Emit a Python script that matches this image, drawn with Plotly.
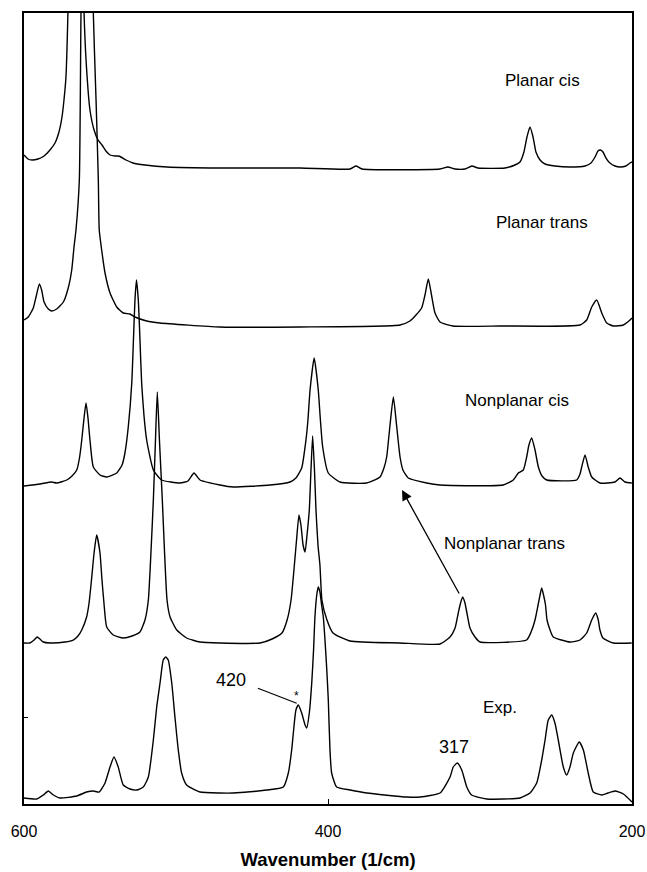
import plotly.graph_objects as go

# ---- data (wavenumber in 1/cm, intensity in arbitrary units above each baseline) ----
WN_PLANAR_CIS = [600, 597.4, 594.7, 590.8, 586.8, 582.9, 579.6, 577.0, 575.0, 573.7, 572.4, 571.1, 565.8, 560.5,
                 558.9, 556.6, 553.9, 551.3, 548.7, 546.1, 543.4, 540.1, 538.2, 536.2, 532.9, 528.3, 520.4, 505.9,
                 471.1, 418.4, 385.5, 381.6, 377.6, 326.3, 321.1, 316.4, 309.9, 305.3, 301.3, 283.6, 277.0, 273.7,
                 271.1, 269.1, 267.1, 265.1, 263.2, 260.5, 257.2, 250.7, 240.8, 230.9, 227.0, 224.3, 222.4, 220.7,
                 219.1, 217.1, 214.5, 211.2, 207.9, 204.0, 201.3, 200]
I_PLANAR_CIS = [12, 8, 7, 8, 11, 17, 24, 35, 50, 67, 90, 154, 587, 154,
                100, 57, 37, 27, 22, 16, 12, 11, 11, 10, 7, 4, 2, 0,
                -1, -1, -2, 1, -2, -2, 0, -2, -2, 1, -1, -1, 2, 5,
                15, 30, 40, 30, 15, 7, 3, 1, 0, 1, 4, 10, 16, 17,
                15, 9, 4, 1, 0, 1, 4, 5]

WN_PLANAR_TRANS = [600, 597.2, 593.9, 592.1, 589.9, 588.4, 586.8, 584.0, 581.8, 578.5, 574.1, 570.9, 568.6, 567.1,
                   565.8, 563.6, 562.5, 558.2, 554.4, 552.6, 551.1, 550.5, 548.9, 546.7, 543.4, 539.0, 534.7, 530.3,
                   527.0, 519.3, 510.5, 471.1, 418.4, 352.6, 346.1, 342.1, 338.4, 336.2, 334.0, 331.9, 329.6, 326.3,
                   317.8, 286.8, 234.2, 229.8, 226.5, 223.2, 219.9, 216.6, 212.3, 205.7, 201.3, 200]
I_PLANAR_TRANS = [6, 9, 18, 29, 42, 36, 24, 17, 15, 17, 24, 38, 56, 79,
                  96, 146, 313, 726, 313, 226, 146, 96, 76, 53, 33, 19, 13, 12,
                  9, 5, 3, -1, -1, 1, 5, 11, 18, 31, 47, 31, 13, 4,
                  0, 0, 1, 6, 19, 26, 13, 3, 0, 1, 6, 8]

WN_NONPLANAR_CIS = [600, 589.5, 581.8, 578.5, 571.9, 568.4, 565.3, 563.5, 562.0, 560.5, 559.2, 557.9, 556.6, 554.4,
                    550.0, 545.6, 539.0, 535.5, 533.6, 531.4, 529.1, 528.0, 527.0, 526.0, 524.8, 523.7, 522.6, 521.1,
                    519.3, 514.9, 509.4, 497.4, 492.1, 488.2, 484.2, 471.1, 462.5, 438.2, 425.0, 421.1, 417.3, 414.5,
                    413.2, 411.8, 409.1, 406.4, 405.0, 403.5, 399.8, 392.1, 374.6, 365.8, 363.2, 361.4, 359.2, 357.0,
                    354.9, 352.6, 350.7, 347.2, 335.1, 326.3, 284.7, 278.1, 274.8, 271.5, 269.3, 267.8, 266.0, 263.8,
                    261.6, 259.2, 256.1, 236.4, 234.2, 233.1, 230.9, 228.8, 226.5, 221.1, 211.2, 207.9, 204.6, 200.1]
I_NONPLANAR_CIS = [-2, 0, 2, 1, 4, 8, 14, 26, 44, 66, 81, 66, 44, 17,
                   9, 7, 11, 19, 31, 57, 101, 144, 184, 204, 184, 144, 101, 69,
                   44, 14, 4, 1, 3, 11, 4, -1, -3, -1, 2, 6, 16, 44,
                   64, 94, 126, 94, 64, 37, 11, 2, 1, 7, 16, 27, 59, 87,
                   59, 27, 14, 6, 1, -1, -1, 4, 11, 14, 27, 39, 46, 34,
                   17, 8, 4, 4, 10, 17, 29, 17, 7, 1, 2, 6, 2, 1]

WN_NONPLANAR_TRANS = [600, 596.1, 593.4, 591.3, 589.5, 587.3, 582.9, 573.0, 567.6, 564.5, 562.0, 558.8, 557.2, 555.6,
                      553.9, 552.2, 550.0, 548.7, 547.4, 545.6, 541.3, 534.7, 528.9, 523.7, 520.4, 518.2, 516.4, 514.9,
                      513.5, 512.3, 510.9, 509.0, 507.6, 505.9, 503.9, 499.5, 493.0, 484.2, 471.1, 444.7, 436.8, 430.3,
                      426.9, 424.3, 422.4, 420.7, 419.1, 417.8, 416.4, 415.1, 413.8, 412.3, 411.2, 410.1, 408.9, 407.9,
                      406.6, 405.3, 404.0, 400.9, 396.7, 385.5, 352.6, 326.3, 319.7, 316.4, 314.3, 312.8, 311.4, 309.9,
                      308.6, 306.6, 303.3, 300.0, 269.3, 266.4, 263.8, 261.8, 260.5, 259.4, 258.2, 256.9, 255.9, 253.9,
                      251.8, 240.8, 234.2, 229.8, 226.5, 223.9, 222.2, 221.1, 219.1, 212.3, 200.2]
I_NONPLANAR_TRANS = [-1, -1, 2, 5, 3, 0, -1, 0, 2, 6, 12, 25, 39, 62,
                     89, 107, 89, 62, 39, 15, 7, 4, 6, 10, 22, 42, 92, 142,
                     202, 250, 202, 142, 92, 42, 25, 12, 4, 0, -1, -1, 3, 9,
                     22, 42, 72, 102, 127, 117, 97, 90, 107, 132, 172, 206, 172, 132,
                     97, 77, 42, 23, 9, 1, -1, -2, 5, 14, 29, 39, 45, 39,
                     29, 14, 5, 0, 2, 10, 22, 37, 47, 54, 47, 37, 22, 12,
                     5, 0, 2, 9, 22, 29, 22, 12, 4, -1, -1]

WN_EXP = [600, 591.6, 587.3, 584.0, 580.7, 576.3, 565.3, 558.8, 554.4, 550.5, 546.7, 543.4, 540.8, 538.0,
          534.7, 530.3, 525.9, 521.5, 518.2, 514.9, 512.7, 510.5, 508.4, 506.8, 505.1, 502.8, 500.7, 498.5,
          496.3, 493.0, 484.2, 471.1, 462.5, 440.3, 429.4, 426.1, 423.9, 422.8, 421.1, 419.5, 417.3, 415.1,
          414.0, 412.3, 410.7, 409.5, 408.6, 407.4, 406.4, 405.3, 404.2, 403.1, 400.9, 399.8, 398.7, 397.6,
          394.3, 385.5, 374.5, 348.2, 339.5, 326.3, 319.7, 317.6, 314.9, 312.0, 308.7, 305.5, 295.6, 273.7,
          267.1, 262.7, 259.4, 257.2, 255.1, 252.8, 250.7, 248.5, 245.2, 243.0, 240.8, 238.6, 234.7, 232.0,
          228.8, 225.5, 219.9, 215.8, 211.2, 205.7, 200]
I_EXP = [0, -1, 3, 7, 3, 0, 2, 6, 7, 6, 15, 31, 41, 31,
         13, 9, 8, 11, 21, 58, 91, 115, 138, 141, 138, 115, 81, 48,
         25, 13, 6, 5, 5, 8, 11, 25, 48, 65, 88, 93, 85, 73,
         70, 85, 115, 148, 181, 203, 211, 206, 193, 181, 131, 98, 48, 25,
         11, 8, 5, 1, 1, 5, 21, 31, 35, 28, 11, 3, -1, 0,
         5, 15, 38, 58, 78, 83, 75, 58, 31, 23, 31, 45, 56, 48,
         25, 6, 3, 5, 7, 4, -4]

SERIES_NAMES = ["Planar cis", "Planar trans", "Nonplanar cis", "Nonplanar trans", "Exp."]
SERIES_OFFSETS = [637, 478, 320, 162, 6]

X_TICKS = [600, 400, 200]
X_TICK_TEXT = ["600", "400", "200"]
Y_TICKS = [87]

# label anchor positions (wavenumber, stacked intensity)
LABEL_X = [259.2, 259.2, 275.9, 283.7, 286.8]
LABEL_Y = [724, 582, 404, 261, 97]

FONT = "Arial, 'Liberation Sans', Helvetica, sans-serif"

series = [
    (WN_PLANAR_CIS, I_PLANAR_CIS),
    (WN_PLANAR_TRANS, I_PLANAR_TRANS),
    (WN_NONPLANAR_CIS, I_NONPLANAR_CIS),
    (WN_NONPLANAR_TRANS, I_NONPLANAR_TRANS),
    (WN_EXP, I_EXP),
]

fig = go.Figure()
for (wn, inten), name, off in zip(series, SERIES_NAMES, SERIES_OFFSETS):
    fig.add_trace(go.Scatter(
        x=wn, y=[v + off for v in inten], mode="lines", name=name,
        line=dict(color="black", width=1.4, shape="spline", smoothing=0.5),
        showlegend=False, hoverinfo="skip",
    ))

for name, lx, ly in zip(SERIES_NAMES, LABEL_X, LABEL_Y):
    fig.add_annotation(x=lx, y=ly, text=name, showarrow=False,
                       font=dict(family=FONT, size=17, color="black"))

# peak annotations
fig.add_annotation(x=463.5, y=124, text="420", showarrow=False,
                   font=dict(family=FONT, size=18, color="black"))
fig.add_annotation(x=317.1, y=57, text="317", showarrow=False,
                   font=dict(family=FONT, size=18, color="black"))
fig.add_annotation(x=420.6, y=108, text="*", showarrow=False,
                   font=dict(family=FONT, size=12, color="black"))
fig.add_shape(type="line", x0=446.1, y0=115.7, x1=420.6, y1=100.7,
              line=dict(color="black", width=1.2))

# arrow from Nonplanar trans peak to Nonplanar cis peak
fig.add_annotation(x=351.3, y=314, ax=313.2, ay=209, axref="x", ayref="y",
                   xref="x", yref="y", text="", showarrow=True,
                   arrowhead=2, arrowsize=1.6, arrowwidth=1.3, arrowcolor="black")

fig.update_layout(
    width=647, height=872,
    margin=dict(l=24, r=15, t=13, b=68, autoexpand=False),
    paper_bgcolor="white", plot_bgcolor="white",
    font=dict(family=FONT, color="black"),
    xaxis=dict(
        range=[600, 200], showgrid=False, zeroline=False, automargin=False,
        showline=True, mirror=True, linecolor="black", linewidth=2,
        ticks="inside", ticklen=5, tickwidth=1.3, tickcolor="black",
        tickvals=X_TICKS, ticktext=X_TICK_TEXT,
        tickfont=dict(family=FONT, size=16, color="black"),
        ticklabelstandoff=12,
        title=dict(text="<b>Wavenumber (1/cm)</b>", standoff=14,
                   font=dict(family=FONT, size=18.5, color="black")),
    ),
    yaxis=dict(
        range=[0, 791], showgrid=False, zeroline=False, automargin=False,
        showline=True, mirror=True, linecolor="black", linewidth=2,
        ticks="inside", ticklen=4, tickcolor="black", tickvals=Y_TICKS,
        showticklabels=False,
    ),
)

fig.write_html(
    "out.html",
    config={"displayModeBar": False},
    post_script="document.body.style.margin='0';document.body.style.padding='0';"
                "document.body.style.overflow='hidden';",
)
